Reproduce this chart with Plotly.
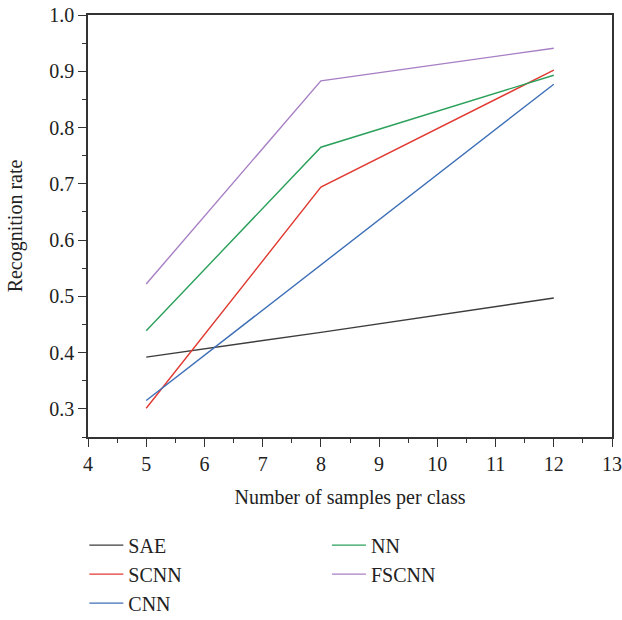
import plotly.graph_objects as go

samples = [5, 8, 12]
sae = [0.392, 0.436, 0.497]
scnn = [0.301, 0.694, 0.902]
cnn = [0.315, 0.556, 0.877]
nn = [0.439, 0.765, 0.893]
fscnn = [0.522, 0.883, 0.941]

series = [
    ("SAE", sae, "#3c3c3c", "legend"),
    ("SCNN", scnn, "#e03a32", "legend"),
    ("CNN", cnn, "#3d6fb6", "legend"),
    ("NN", nn, "#2aa05a", "legend2"),
    ("FSCNN", fscnn, "#a77fc4", "legend2"),
]

FONT = "Liberation Serif"
fig = go.Figure()
for name, vals, color, lg in series:
    fig.add_trace(go.Scatter(x=samples, y=vals, mode="lines", name=name,
                             line=dict(color=color, width=1.4), legend=lg))

legend_common = dict(font=dict(family=FONT, size=20, color="#222"),
                     bgcolor="rgba(0,0,0,0)", orientation="v",
                     xanchor="left", yanchor="top", itemwidth=34,
                     tracegroupgap=0)

fig.update_layout(
    width=622, height=620,
    margin=dict(l=88, r=10, t=15, b=183, autoexpand=False),
    paper_bgcolor="white", plot_bgcolor="white",
    font=dict(family=FONT, size=20, color="#222"),
    legend=dict(x=-0.007, y=-0.21, **legend_common),
    legend2=dict(x=0.456, y=-0.21, **legend_common),
    xaxis=dict(range=[4, 13], dtick=1, tick0=4, ticks="outside", ticklen=8,
               tickcolor="#333", showline=True, linecolor="#333", linewidth=1.5,
               mirror=True, showgrid=False, zeroline=False, automargin=False,
               minor=dict(ticks="outside", ticklen=4, dtick=0.5, tickcolor="#333"),
               title=dict(text="Number of samples per class", standoff=16,
                          font=dict(family=FONT, size=20)),
               tickfont=dict(family=FONT, size=20)),
    yaxis=dict(range=[0.25, 1.0], dtick=0.1, tick0=0.3, tickformat=".1f",
               ticks="outside", ticklen=8, tickcolor="#333",
               showline=True, linecolor="#333", linewidth=1.5, mirror=True,
               showgrid=False, zeroline=False, automargin=False,
               minor=dict(ticks="outside", ticklen=4, dtick=0.05, tickcolor="#333"),
               title=dict(text="Recognition rate", standoff=21,
                          font=dict(family=FONT, size=20)),
               tickfont=dict(family=FONT, size=20)),
)

fig.write_html("out.html", config={"displayModeBar": False},
               post_script="document.body.style.margin='0';")
